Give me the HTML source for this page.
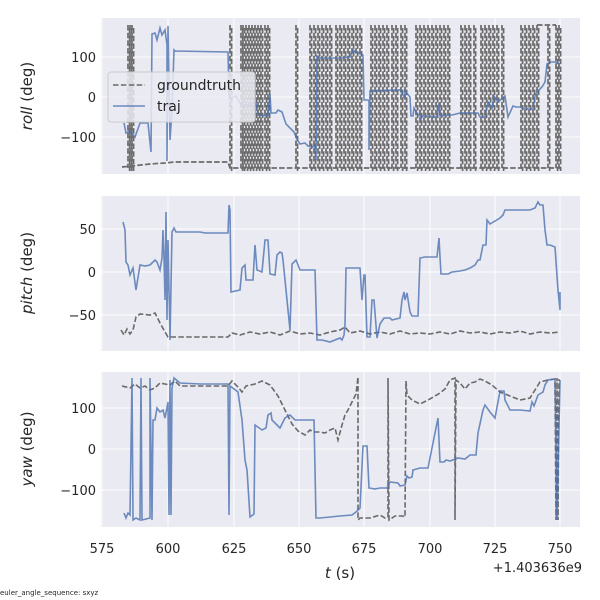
<!DOCTYPE html>
<html><head><meta charset="utf-8"><style>
html,body{margin:0;padding:0;background:#fff;width:600px;height:600px;overflow:hidden}
svg{display:block;overflow:hidden;font-family:"DejaVu Sans","Liberation Sans",sans-serif}
</style></head><body>
<svg width="600" height="600" viewBox="0 0 600 600">
<defs>
<g id="vg" stroke="#fff" stroke-width="1"><path d="M102 0V1000M168 0V1000M234 0V1000M299 0V1000M364 0V1000M430 0V1000M495 0V1000M560 0V1000"/></g>
<clipPath id="c1"><rect x="101" y="18" width="479" height="156"/></clipPath>
<clipPath id="c2"><rect x="101" y="196" width="479" height="155"/></clipPath>
<clipPath id="c3"><rect x="101" y="372" width="479" height="155"/></clipPath>
<path id="vl" d="M128 25V168M130 25V168M132 25V168M230 25V168M241 25V168M243 25V168M246 25V168M249 25V168M252 25V168M255 25V168M258 25V168M261 25V168M265 25V168M268 25V168M296 25V168M310 25V168M314 25V168M318 25V168M322 25V168M326 25V168M330 25V168M336 25V168M340 25V168M344 25V168M348 25V168M352 25V168M356 25V168M360 25V168M371 25V168M375 25V168M379 25V168M383 25V168M387 25V168M392 25V168M396 25V168M401 25V168M405 25V168M416 25V168M420 25V168M424 25V168M428 25V168M432 25V168M436 25V168M440 25V168M444 25V168M448 25V168M461 25V168M465 25V168M469 25V168M474 25V168M481 25V168M485 25V168M489 25V168M493 25V168M497 25V168M502 25V168M521 25V168M525 25V168M529 25V168M533 25V168M537 25V168M548 25V168M556 25V168M559 25V168"/>
</defs>
<rect x="101" y="18" width="479" height="156" fill="#EAEAF2"/>
<g clip-path="url(#c1)"><use href="#vg"/>
<path d="M101 57H580M101 97H580M101 137H580" stroke="#fff"/>
<g fill="none" stroke="#6a6a6a" stroke-width="1.7" stroke-dasharray="5.5,2.2">
<path d="M122 167L150 164L165 163L175 162L228 162L230 168L560 168M537 25H556"/>
<use href="#vl"/>
<use href="#vl" transform="translate(1.6,3)"/>
</g>
<polyline fill="none" stroke="#4C72B0" stroke-opacity="0.8" stroke-width="1.6" points="124,123 126,133 130,131 135,137 140,123 148,123 151,152 152,34 155,33 157,40 160,28 162,35 165,30 167,45 167,161 168,26 170,140 172,110 174,50 175,51 228,52 229,95 230,99 236,96 240,103 245,105 256,103 258,115 268,116 270,94 271,113 276,113 278,110 282,112 286,124 294,132 297,139 300,144 305,143 308,146 312,147 315,146 316,160 317,56 320,58 340,58 350,57 353,50 356,52 363,55 364,100 368,100 369,101 369,150 370,91 400,90 404,97 405,96 405,91 410,97 411,116 413,116 414,108 418,115 420,115 421,119 422,116 437,117 439,103 440,116 452,115 460,113 478,113 480,117 485,117 488,102 492,108 494,96 498,102 505,96 508,117 513,106 516,107 520,107 525,109 533,109 535,96 538,91 542,87 545,82 547,64 550,62 555,62 560,64"/>
</g>
<rect x="108" y="72" width="147" height="50" rx="3" fill="#EAEAF2" fill-opacity="0.85" stroke="#ccc"/>
<path d="M113 85H145" stroke="#6a6a6a" stroke-width="1.6" stroke-dasharray="5.5,2.4"/>
<path d="M113 106H145" stroke="#4C72B0" stroke-opacity="0.8" stroke-width="1.6"/>
<text x="157" y="90" font-size="14" fill="#262626">groundtruth</text>
<text x="157" y="111" font-size="14" fill="#262626">traj</text>
<g font-size="13" fill="#262626" text-anchor="end">
<text x="96" y="62">100</text><text x="96" y="102">0</text><text x="96" y="142">−100</text>
<text x="96" y="234">50</text><text x="96" y="277">0</text><text x="96" y="320">−50</text>
<text x="96" y="413">100</text><text x="96" y="454">0</text><text x="96" y="495">−100</text>
</g>
<rect x="101" y="196" width="479" height="155" fill="#EAEAF2"/>
<g clip-path="url(#c2)"><use href="#vg"/>
<path d="M101 229H580M101 272H580M101 315H580" stroke="#fff"/>
<polyline fill="none" stroke="#6a6a6a" stroke-width="1.6" stroke-dasharray="5.5,2.4" points="121,330 124,335 127,329 130,334 133,330 136,317 140,314 150,315 155,313 160,323 165,332 168,337 228,337 232,333 240,335 250,332 260,334 270,332 280,335 290,331 300,334 310,333 320,335 330,332 340,330 345,327 350,333 360,331 370,334 380,332 390,334 400,331 410,334 420,333 430,334 440,332 450,334 460,331 470,333 480,332 490,334 500,332 510,333 520,331 530,334 540,332 550,333 560,332"/>
<polyline fill="none" stroke="#4C72B0" stroke-opacity="0.8" stroke-width="1.6" points="123,222 125,230 126,262 128,265 130,275 133,268 136,290 140,265 145,266 150,265 155,260 157,262 160,270 162,258 163,230 164,258 165,300 166,212 167,320 168,240 170,340 172,232 174,228 176,232 200,232 205,233 228,233 229,205 230,210 231,292 240,290 242,268 245,265 246,280 253,280 255,245 257,270 262,272 265,240 268,240 270,274 275,275 277,255 280,252 282,253 283,260 290,330 292,264 296,260 298,265 300,270 310,270 315,270 317,340 322,340 330,342 340,338 342,340 344,335 345,325 346,268 360,268 362,300 364,275 365,275 367,337 370,337 372,300 374,300 377,338 380,324 384,318 390,318 392,320 400,318 402,300 404,292 405,300 407,293 410,312 412,316 418,316 420,258 425,257 437,257 439,238 440,257 441,274 445,274 448,274 452,272 460,271 465,270 470,268 475,265 478,260 480,260 483,245 486,245 487,220 490,224 495,221 500,218 503,215 505,210 512,210 530,210 535,208 538,202 540,205 543,205 545,230 547,245 550,245 555,247 558,290 560,310 560,292"/>
</g>
<rect x="101" y="372" width="479" height="155" fill="#EAEAF2"/>
<g clip-path="url(#c3)"><use href="#vg"/>
<path d="M101 408H580M101 449H580M101 490H580" stroke="#fff"/>
<polyline fill="none" stroke="#6a6a6a" stroke-width="1.6" stroke-dasharray="5.5,2.4" points="122,386 130,388 135,384 140,388 145,386 150,390 155,388 160,383 165,384 170,385 175,381 180,386 228,386 232,381 238,387 242,392 246,386 255,384 262,381 270,385 278,396 285,410 292,424 298,431 305,435 310,430 314,432 320,432 325,433 330,430 335,428 338,440 342,425 345,415 348,410 352,402 356,394 358,377 358,520 360,518 370,518 380,515 385,518 388,517 388,378 389,520 395,516 403,516 405,517 406,381 407,395 412,400 420,404 428,400 435,396 440,393 445,389 450,380 455,378 455,520 456,380 460,383 465,389 470,383 475,382 480,379 485,381 492,385 500,392 510,396 520,400 530,398 535,390 540,382 548,380 555,379 556,520 557,378 558,520 559,380 560,380"/>
<polyline fill="none" stroke="#4C72B0" stroke-opacity="0.8" stroke-width="1.6" points="124,513 126,518 128,513 130,515 132,378 133,520 136,518 140,520 141,378 142,520 150,518 150,378 152,520 153,420 155,420 157,408 160,412 163,410 165,418 168,402 169,515 170,380 171,515 172,388 174,378 180,383 200,384 228,384 229,515 230,386 238,392 242,420 245,460 247,470 250,517 254,514 255,425 262,430 266,428 268,415 271,413 272,420 280,428 285,418 290,415 295,420 310,420 314,420 316,518 320,518 340,516 352,515 356,512 360,508 363,446 367,446 369,488 375,489 380,488 387,488 390,482 398,483 400,486 405,485 407,476 409,478 412,477 413,470 420,468 428,468 438,418 440,462 444,462 446,460 450,461 458,458 465,459 470,455 476,455 478,433 483,410 485,405 490,412 495,418 500,391 504,391 505,400 510,410 520,410 530,411 532,402 534,406 538,395 543,392 545,385 548,380 555,379 557,520 560,380"/>
</g>
<g font-size="13" fill="#262626" text-anchor="middle">
<text x="102" y="553">575</text><text x="168" y="553">600</text><text x="234" y="553">625</text><text x="299" y="553">650</text><text x="364" y="553">675</text><text x="430" y="553">700</text><text x="495" y="553">725</text><text x="560" y="553">750</text>
</g>
<text x="582" y="572" font-size="13" fill="#262626" text-anchor="end">+1.403636e9</text>
<text x="340" y="578" font-size="15" fill="#262626" text-anchor="middle"><tspan font-style="italic">t</tspan> (s)</text>
<g font-size="15" fill="#262626" text-anchor="middle">
<text transform="translate(32,96) rotate(-90)"><tspan font-style="italic">roll</tspan> (deg)</text>
<text transform="translate(32,273) rotate(-90)"><tspan font-style="italic">pitch</tspan> (deg)</text>
<text transform="translate(32,449) rotate(-90)"><tspan font-style="italic">yaw</tspan> (deg)</text>
</g>
<text x="0" y="595" font-size="7" fill="#262626">euler_angle_sequence: sxyz</text>
</svg>
</body></html>
